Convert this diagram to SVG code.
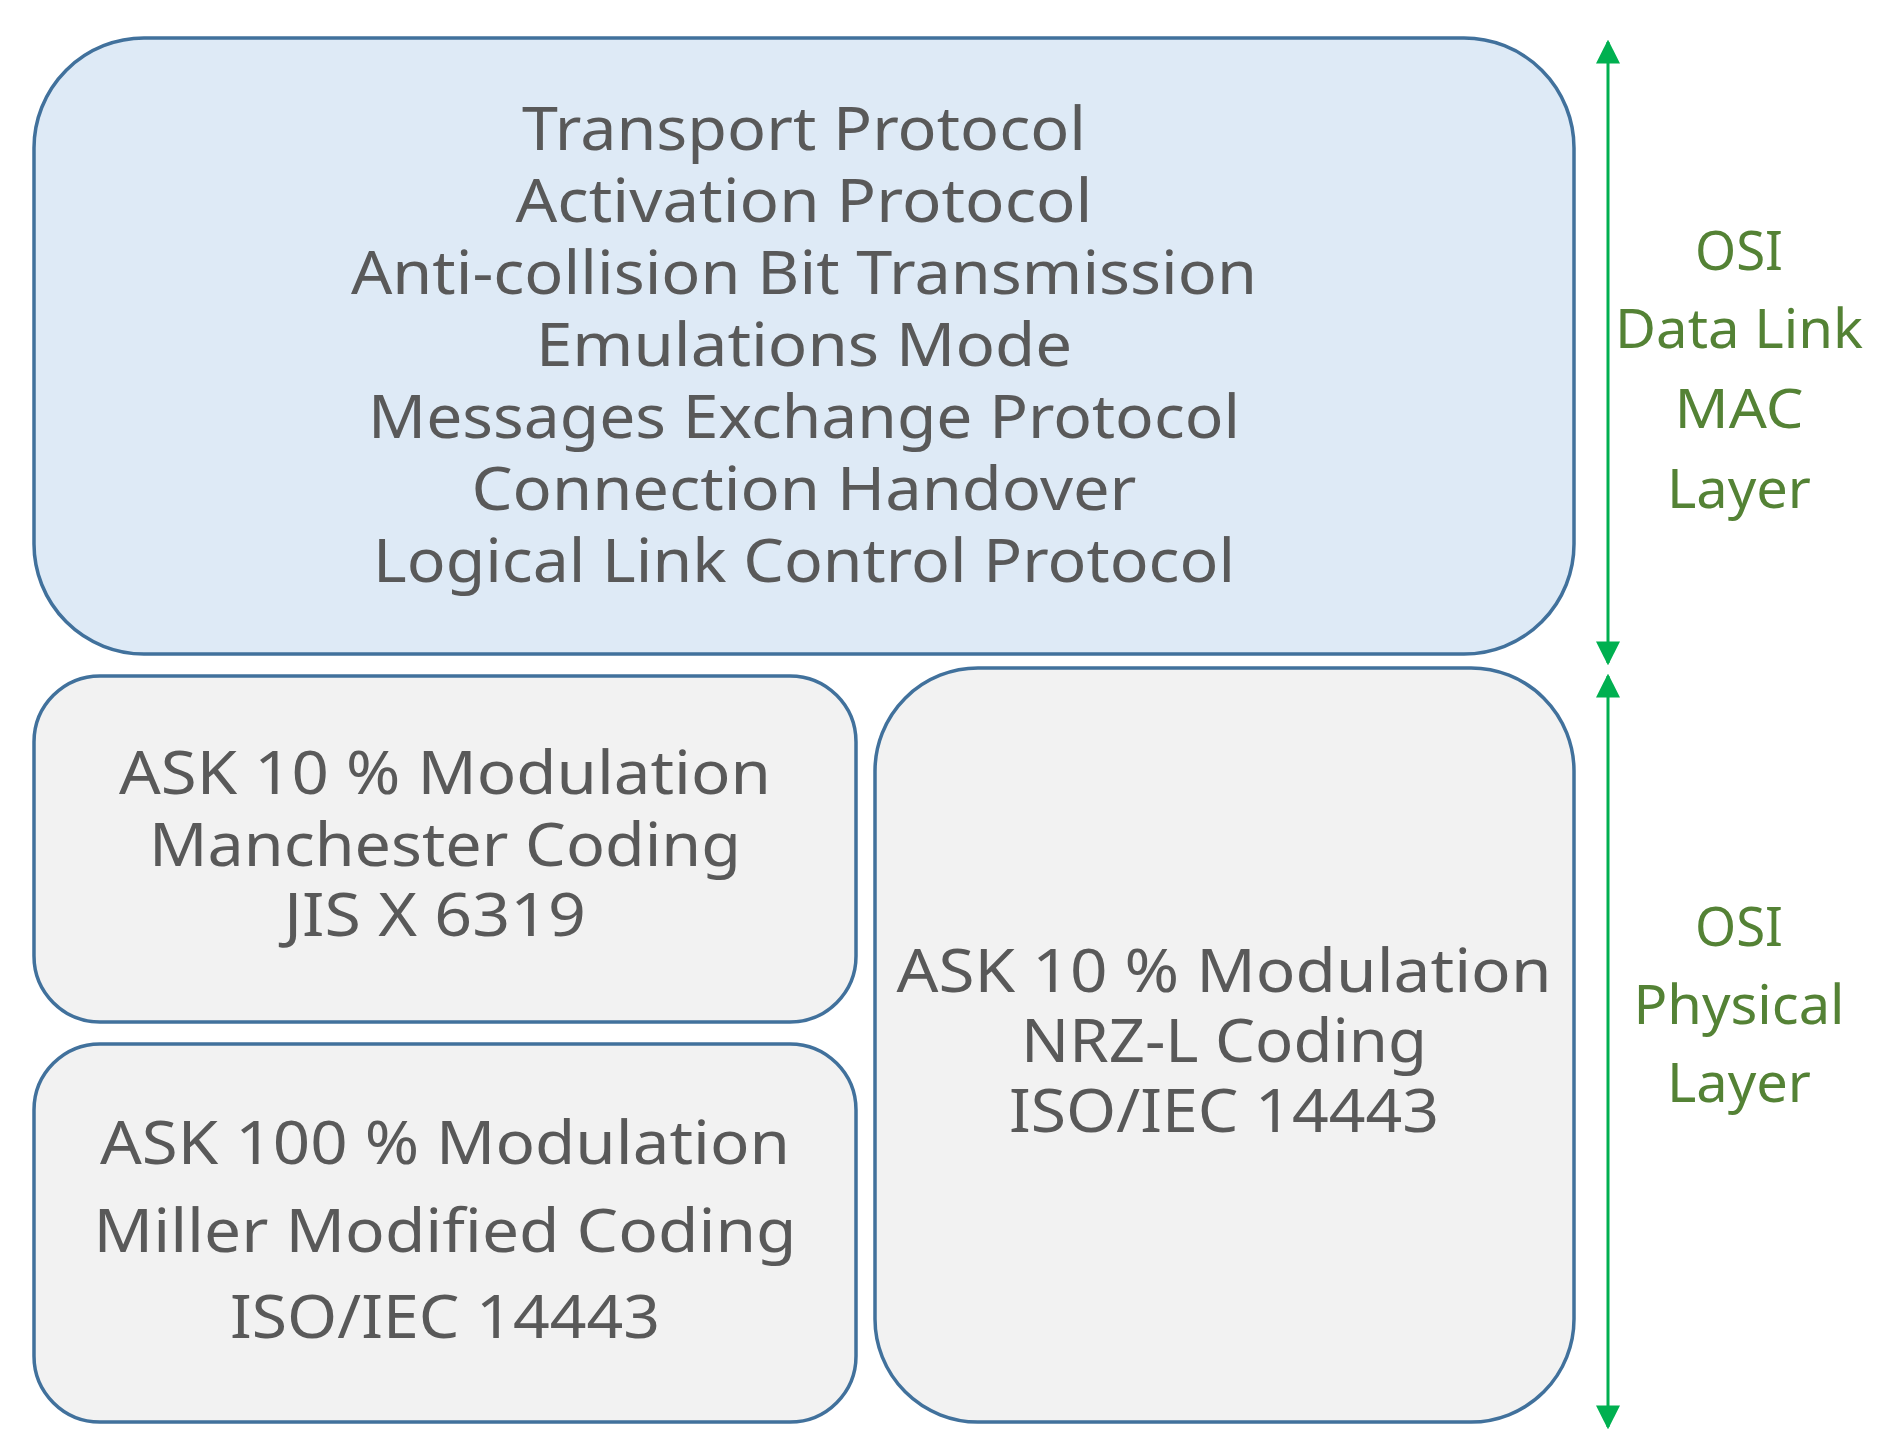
<svg xmlns="http://www.w3.org/2000/svg" width="1884" height="1452" viewBox="0 0 1884 1452">
<style>
.box{stroke:#41719c;stroke-width:3.5}
.t{font-family:"Noto Sans","Open Sans",sans-serif;font-size:60px;fill:#595959;text-anchor:middle}
.g{font-family:"Noto Sans","Open Sans",sans-serif;font-size:54px;fill:#548235;text-anchor:middle}
.ar{stroke:#00b050;stroke-width:3;fill:none}
</style>
<defs>
<marker id="ah" viewBox="0 0 10 10" refX="9" refY="5" markerWidth="8" markerHeight="8" orient="auto-start-reverse" markerUnits="strokeWidth"><path d="M0,0L10,5L0,10z" fill="#00b050"/></marker>
</defs>
<rect width="1884" height="1452" fill="#fff"/>
<g id="mac">
<rect class="box" x="34" y="38" width="1540" height="616" rx="110" fill="#deeaf6"/>
<text class="t" x="804" y="150" textLength="564" lengthAdjust="spacingAndGlyphs">Transport Protocol</text>
<text class="t" x="804" y="222" textLength="577" lengthAdjust="spacingAndGlyphs">Activation Protocol</text>
<text class="t" x="804" y="294" textLength="906" lengthAdjust="spacingAndGlyphs">Anti-collision Bit Transmission</text>
<text class="t" x="804" y="366" textLength="536" lengthAdjust="spacingAndGlyphs">Emulations Mode</text>
<text class="t" x="804" y="438" textLength="872" lengthAdjust="spacingAndGlyphs">Messages Exchange Protocol</text>
<text class="t" x="804" y="510" textLength="665" lengthAdjust="spacingAndGlyphs">Connection Handover</text>
<text class="t" x="804" y="582" textLength="862" lengthAdjust="spacingAndGlyphs">Logical Link Control Protocol</text>
</g>
<g id="manchester">
<rect class="box" x="34" y="676" width="822" height="346" rx="66" fill="#f2f2f2"/>
<text class="t" x="445" y="794" textLength="652" lengthAdjust="spacingAndGlyphs">ASK 10 % Modulation</text>
<text class="t" x="445" y="866" textLength="592" lengthAdjust="spacingAndGlyphs">Manchester Coding</text>
<text class="t" x="435" y="936" textLength="302" lengthAdjust="spacingAndGlyphs">JIS X 6319</text>
</g>
<g id="miller">
<rect class="box" x="34" y="1044" width="822" height="378" rx="66" fill="#f2f2f2"/>
<text class="t" x="445" y="1164" textLength="690" lengthAdjust="spacingAndGlyphs">ASK 100 % Modulation</text>
<text class="t" x="445" y="1252" textLength="703" lengthAdjust="spacingAndGlyphs">Miller Modified Coding</text>
<text class="t" x="445" y="1338" textLength="430" lengthAdjust="spacingAndGlyphs">ISO/IEC 14443</text>
</g>
<g id="nrz">
<rect class="box" x="875" y="668" width="699" height="754" rx="103" fill="#f2f2f2"/>
<text class="t" x="1224" y="992" textLength="655" lengthAdjust="spacingAndGlyphs">ASK 10 % Modulation</text>
<text class="t" x="1224" y="1062" textLength="406" lengthAdjust="spacingAndGlyphs">NRZ-L Coding</text>
<text class="t" x="1224" y="1132" textLength="430" lengthAdjust="spacingAndGlyphs">ISO/IEC 14443</text>
</g>
<g id="connectors">
<line class="ar" x1="1608" y1="42" x2="1608" y2="663" marker-start="url(#ah)" marker-end="url(#ah)"/>
<line class="ar" x1="1608" y1="676" x2="1608" y2="1427" marker-start="url(#ah)" marker-end="url(#ah)"/>
</g>
<g id="labels">
<text class="g" x="1739" y="270" textLength="88" lengthAdjust="spacingAndGlyphs">OSI</text>
<text class="g" x="1739" y="348" textLength="248" lengthAdjust="spacingAndGlyphs">Data Link</text>
<text class="g" x="1739" y="428" textLength="129" lengthAdjust="spacingAndGlyphs">MAC</text>
<text class="g" x="1739" y="508" textLength="144" lengthAdjust="spacingAndGlyphs">Layer</text>
<text class="g" x="1739" y="946" textLength="88" lengthAdjust="spacingAndGlyphs">OSI</text>
<text class="g" x="1739" y="1024" textLength="211" lengthAdjust="spacingAndGlyphs">Physical</text>
<text class="g" x="1739" y="1102" textLength="144" lengthAdjust="spacingAndGlyphs">Layer</text>
</g>
</svg>
